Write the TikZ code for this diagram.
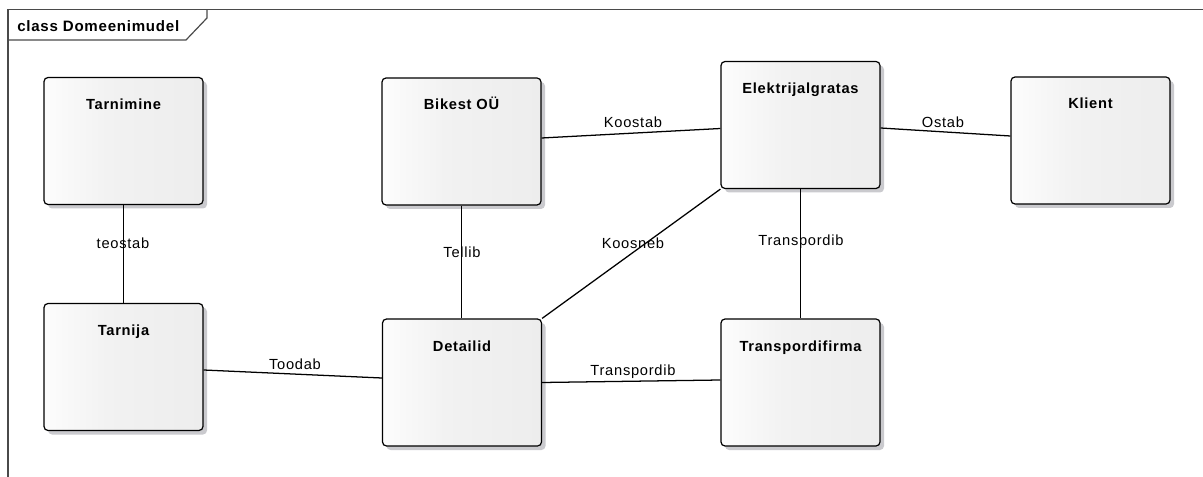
\documentclass[tikz,border=0pt]{standalone}
\usepackage{fontspec}
\setmainfont{Liberation Sans}
\newfontfamily\umlfont{Liberation Sans}[LetterSpace=5]
\usetikzlibrary{calc,shadows}
\definecolor{boxedge}{HTML}{D6D6D6}
\definecolor{boxright}{HTML}{E9E9E9}
\definecolor{shadowgray}{HTML}{CACACE}
\definecolor{framegray}{HTML}{4A4A4A}
\pgfdeclarehorizontalshading{umlbox}{100bp}{color(0bp)=(boxedge); color(20bp)=(white); color(45bp)=(boxright!60!white); color(100bp)=(boxright)}
\tikzset{
  umlclass/.style={draw=black, line width=0.9pt, rounded corners=3pt,
    shading=umlbox, minimum width=119.25pt, minimum height=95.25pt,
    inner sep=0pt, text height=24pt, text depth=71.25pt,
    font=\umlfont\bfseries\fontsize{11}{13}\selectfont,
    drop shadow={shadow xshift=3pt, shadow yshift=-3pt, fill=shadowgray, opacity=1}},
  assoc/.style={draw=black, line width=0.95pt},
  assoclabel/.style={font=\umlfont\fontsize{11}{13}\selectfont, inner sep=0pt},
  frameline/.style={draw=framegray, line width=0.9pt},
}
\begin{document}
\begin{tikzpicture}[x=0.75pt, y=-0.75pt]
\useasboundingbox (0,0) rectangle (1203,477);

% diagram frame with its name tab
\draw[frameline] (8,477) -- (8,9.5) -- (1203,9.5);
\draw[frameline] (207,9.5) -- (207,18) -- (186,40) -- (8,40);
\node[anchor=base west, inner sep=0pt, font=\umlfont\bfseries\fontsize{11.3}{13}\selectfont] (frametitle) at (17,32) {class Domeenimudel};

% classes
\node[umlclass] (tarnimine) at (123.5,141) {Tarnimine};
\node[umlclass] (bikest)    at (461.5,141.5) {Bikest OÜ};
\node[umlclass] (elektri)   at (800.5,125) {Elektrijalgratas};
\node[umlclass] (klient)    at (1090.5,140.5) {Klient};
\node[umlclass] (tarnija)   at (123.5,367) {Tarnija};
\node[umlclass] (detailid)  at (462,382.5) {Detailid};
\node[umlclass] (transp)    at (800.5,382.5) {Transpordifirma};

% associations
\draw[assoc] (tarnimine.south) -- (tarnija.north);
\draw[assoc] ($(tarnija.east)+(0,3)$) -- ($(detailid.west)+(0,-4.5)$);
\draw[assoc] (bikest.south) -- (bikest.south |- detailid.north);
\draw[assoc] ($(bikest.east)+(0,-3.5)$) -- ($(elektri.west)+(0,3.5)$);
\draw[assoc] (detailid.north east) -- (elektri.south west);
\draw[assoc] ($(elektri.east)+(0,3)$) -- ($(klient.west)+(0,-4.5)$);
\draw[assoc] (elektri.south) -- (transp.north);
\draw[assoc] (detailid.east) -- ($(transp.west)+(0,-2.5)$);

% association names
\node[assoclabel] (lteostab)  at (123,243) {teostab};
\node[assoclabel] (ltoodab)   at (295,364) {Toodab};
\node[assoclabel] (ltellib)   at (462,252) {Tellib};
\node[assoclabel] (lkoostab)  at (633,122) {Koostab};
\node[assoclabel] (lkoosneb)  at (633,243) {Koosneb};
\node[assoclabel] (lostab)    at (943,122) {Ostab};
\node[assoclabel] (ltranspv)  at (801,242) {Transpordib};
\node[assoclabel] (ltransph)  at (633,372) {Transpordib};
\end{tikzpicture}
\end{document}
